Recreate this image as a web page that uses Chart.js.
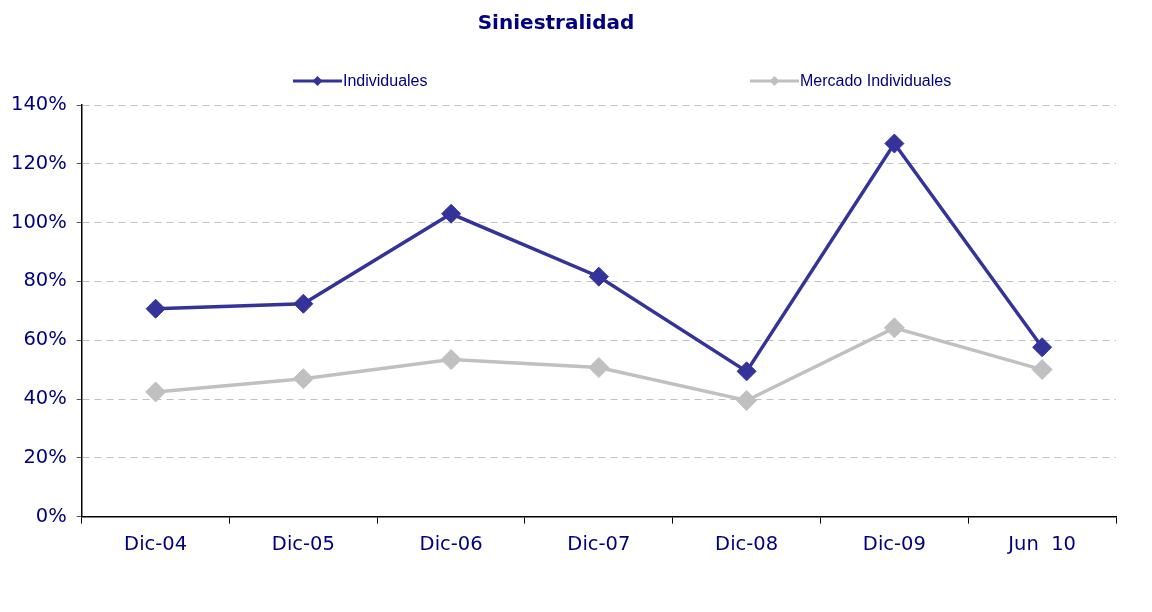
<!DOCTYPE html>
<html>
<head>
<meta charset="utf-8">
<script src="https://cdn.jsdelivr.net/npm/chart.js@4"></script>
<style>
  html, body { margin: 0; padding: 0; background: #fff; }
  #wrap { width: 1152px; height: 612px; }
</style>
</head>
<body>
<div id="wrap"><canvas id="grafico" width="1152" height="612"></canvas></div>
<script>
const categorias = ["Dic-04", "Dic-05", "Dic-06", "Dic-07", "Dic-08", "Dic-09", "Jun  10"];
const individuales = [70.7, 72.4, 103.0, 81.6, 49.4, 126.9, 57.6];
const mercadoIndividuales = [42.4, 46.9, 53.4, 50.7, 39.5, 64.2, 50.0];
const ticksY = [0, 20, 40, 60, 80, 100, 120, 140];

const azul = "#333399";
const gris = "#c0c0c0";
const textoAzul = "#000080";

// titulo y leyenda dibujados a mano (posiciones como en el original)
const tituloYLeyenda = {
  id: "tituloYLeyenda",
  afterDraw(chart) {
    const ctx = chart.ctx;
    ctx.save();
    ctx.fillStyle = textoAzul;
    ctx.font = "bold 20px 'DejaVu Sans'";
    ctx.textAlign = "center";
    ctx.textBaseline = "middle";
    ctx.fillText("Siniestralidad", 556, 24);

    const posiciones = [293, 750];
    ctx.font = "16px 'Liberation Sans'";
    ctx.textAlign = "left";
    chart.data.datasets.forEach((ds, i) => {
      const x = posiciones[i];
      const y = 81;
      ctx.strokeStyle = ds.borderColor;
      ctx.lineWidth = 3;
      ctx.beginPath();
      ctx.moveTo(x, y);
      ctx.lineTo(x + 49, y);
      ctx.stroke();
      ctx.fillStyle = ds.backgroundColor;
      ctx.beginPath();
      ctx.moveTo(x + 24.5, y - 5);
      ctx.lineTo(x + 29.5, y);
      ctx.lineTo(x + 24.5, y + 5);
      ctx.lineTo(x + 19.5, y);
      ctx.closePath();
      ctx.fill();
      ctx.fillStyle = textoAzul;
      ctx.fillText(ds.label, x + 50, y + 1);
    });
    ctx.restore();
  }
};

new Chart(document.getElementById("grafico"), {
  type: "line",
  data: {
    labels: categorias,
    datasets: [
      {
        label: "Individuales",
        data: individuales,
        borderColor: azul,
        backgroundColor: azul,
        borderWidth: 3.5,
        pointStyle: "rectRot",
        pointRadius: 9.5,
        pointBorderWidth: 1,
        tension: 0
      },
      {
        label: "Mercado Individuales",
        data: mercadoIndividuales,
        borderColor: gris,
        backgroundColor: gris,
        borderWidth: 3.5,
        pointStyle: "rectRot",
        pointRadius: 10,
        pointBorderWidth: 1,
        tension: 0
      }
    ]
  },
  options: {
    responsive: false,
    animation: false,
    layout: { padding: { top: 105, left: 1, right: 36, bottom: 45 } },
    plugins: {
      legend: { display: false },
      title: { display: false },
      tooltip: { enabled: false }
    },
    scales: {
      x: {
        offset: true,
        grid: {
          offset: true,
          drawOnChartArea: false,
          tickLength: 7,
          tickColor: "#000"
        },
        border: { color: "#000", width: 1.5 },
        ticks: {
          color: textoAzul,
          font: { family: "'DejaVu Sans'", size: 19.5 },
          padding: 10,
          maxRotation: 0
        }
      },
      y: {
        min: 0,
        max: 140,
        afterBuildTicks(scale) {
          scale.ticks = ticksY.map(v => ({ value: v }));
        },
        grid: {
          color: gris,
          tickLength: 5,
          tickColor: "#555"
        },
        border: { color: "#000", width: 1.5, dash: [7, 5] },
        ticks: {
          color: textoAzul,
          font: { family: "'DejaVu Sans'", size: 19.5 },
          padding: 10,
          callback: v => v + "%"
        }
      }
    }
  },
  plugins: [tituloYLeyenda]
});
</script>
</body>
</html>
